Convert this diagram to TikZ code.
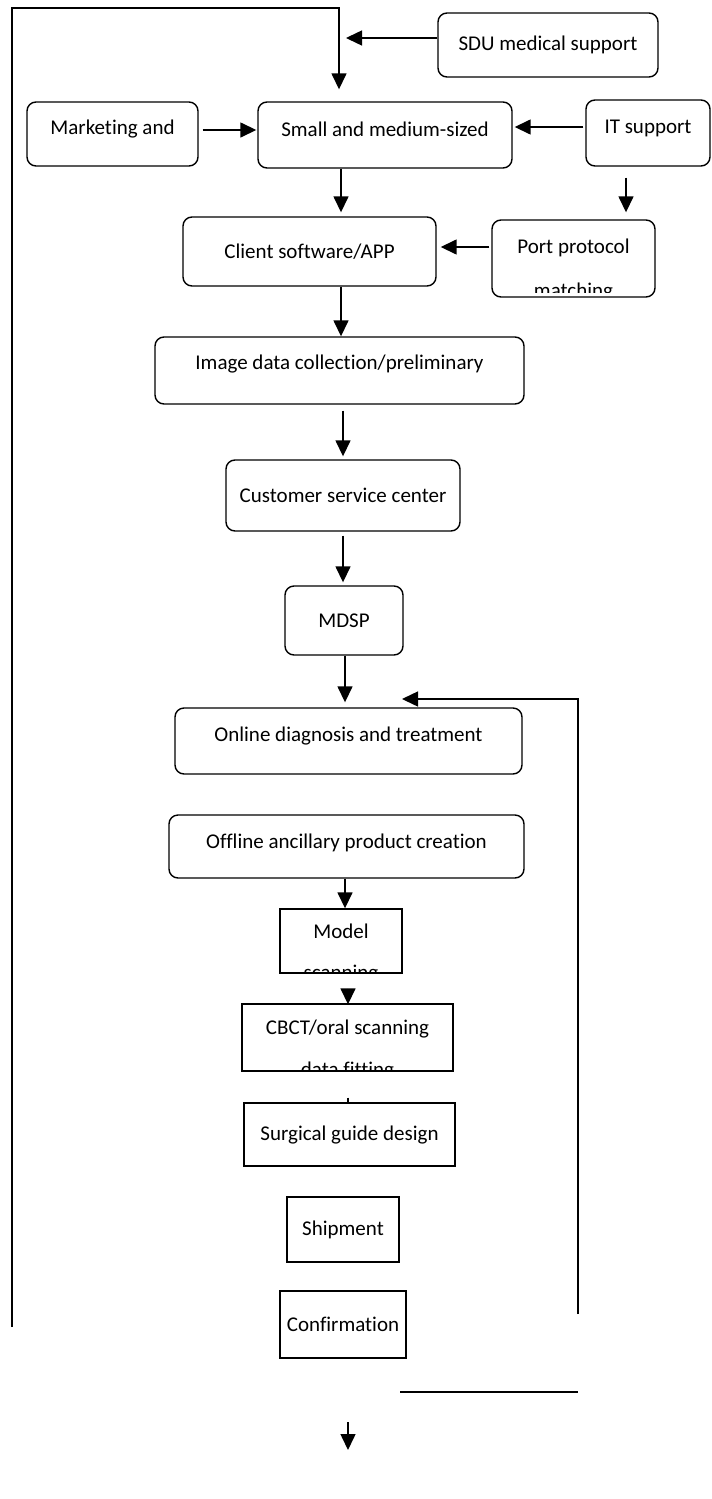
\documentclass[tikz,border=0pt]{standalone}
\usepackage{fontspec}
\setmainfont{Carlito}[Ligatures=NoCommon]
\usetikzlibrary{arrows.meta}
\tikzset{
  rbox/.style={draw, line width=1.4pt, rounded corners=9pt, inner sep=0pt},
  sbox/.style={draw, line width=1.4pt, inner sep=0pt},
  arr/.style={-{Triangle[length=16pt,width=15pt]}, line width=1.5pt},
  ln/.style={line width=1.5pt},
}
\newcommand{\up}[2]{\raisebox{#1}[0pt][0pt]{#2}}

\begin{document}
\begin{tikzpicture}[x=1pt, y=-1pt, font=\fontsize{21}{25}\selectfont]
		\useasboundingbox (0,0) rectangle (712,1499);

		% boxes
		\node[rbox, minimum width=220, minimum height=64] (sdu) at (548,45) {SDU medical support};
		\node[rbox, minimum width=171, minimum height=64] (mkt) at (112.5,134) {\up{-0.7pt}{Marketing and}};
		\node[rbox, minimum width=254, minimum height=66] (smd) at (385,135) {\up{-1.7pt}{Small and medium-sized}};
		\node[rbox, minimum width=124, minimum height=66] (it) at (648,133) {\up{-0.7pt}{IT support}};
		\node[rbox, minimum width=253, minimum height=69] (cli) at (309.5,251.5) {Client software/APP};
		\node[rbox, minimum width=163, minimum height=77] (pp) at (573.5,258.5) {\up{4.8pt}{Port protocol}};
		\node[rbox, minimum width=369, minimum height=67] (img) at (339.5,370.5) {\up{0.8pt}{Image data collection/preliminary}};
		\node[rbox, minimum width=234, minimum height=71] (csc) at (343,495.5) {Customer service center};
		\node[rbox, minimum width=118, minimum height=69] (mdsp) at (344,620.5) {MDSP};
		\node[rbox, minimum width=347, minimum height=66] (onl) at (348.5,741) {\up{-0.7pt}{Online diagnosis and treatment}};
		\node[rbox, minimum width=355, minimum height=63] (off) at (346.5,846.5) {\up{-2.2pt}{Offline ancillary product creation}};
		\node[sbox, minimum width=122, minimum height=64] (mod) at (341,941) {\up{2.3pt}{Model}};
		\node[sbox, minimum width=211, minimum height=67] (cbct) at (347.5,1037.5) {\up{2.8pt}{CBCT/oral scanning}};
		\node[sbox, minimum width=211, minimum height=63] (sgd) at (349.5,1134.5) {Surgical guide design};
		\node[sbox, minimum width=112, minimum height=65] (shp) at (343,1229.5) {Shipment};
		\node[sbox, minimum width=126, minimum height=67] (cnf) at (343,1324.5) {Confirmation};

		% second lines, cut off at the box bottom
		\begin{scope}
			\clip ([yshift=5pt]pp.south west) rectangle (pp.north east);
			\node[anchor=base] (ppb) at (pp.south) {matching};
		\end{scope}
		\begin{scope}
			\clip ([yshift=1pt]mod.south west) rectangle (mod.north east);
			\node[anchor=base] (modb) at ([yshift=-6pt]mod.south) {scanning};
		\end{scope}
		\begin{scope}
			\clip ([yshift=2pt]cbct.south west) rectangle (cbct.north east);
			\node[anchor=base] (cbctb) at ([yshift=-4.5pt]cbct.south) {data fitting};
		\end{scope}

		% columns and free ends
		\coordinate (ca) at (341,0);
		\coordinate (cb) at (343,0);
		\coordinate (cc) at (345,0);
		\coordinate (cd) at (348,0);
		\coordinate (ce) at (626,0);
		\coordinate (lb) at (12,1327);
		\coordinate (lt) at (12,8);
		\coordinate (topx) at (339,8);
		\coordinate (sdutip) at (346,38);
		\coordinate (fb) at (578,1314);
		\coordinate (fbt) at (402,699);
		\coordinate (bl) at (400,1392);
		\coordinate (br) at (578,1392);
		\coordinate (ba) at (348,1422);
		\coordinate (bb) at (348,1450);

		\draw[arr, shorten >=12pt] (lb) -- (lt) -- (topx) -- (topx |- smd.north);
		\draw[arr] (sdu.west |- sdutip) -- (sdutip);
		\draw[arr, shorten <=4pt, shorten >=1pt] ([yshift=4pt]mkt.east) -- ([yshift=4pt]mkt.east -| smd.west);
		\draw[arr, shorten <=2pt, shorten >=2pt] ([yshift=6pt]it.west) -- ([yshift=6pt]it.west -| smd.east);
		\draw[arr, shorten >=4pt] (smd.south -| ca) -- (cli.north -| ca);
		\draw[arr, shorten <=11pt, shorten >=7pt] (it.south -| ce) -- (pp.north -| ce);
		\draw[arr, shorten <=2pt, shorten >=4pt] ([yshift=11.5pt]pp.west) -- ([yshift=11.5pt]pp.west -| cli.east);
		\draw[arr] (cli.south -| ca) -- (img.north -| ca);
		\draw[arr, shorten <=6pt, shorten >=3pt] (img.south -| cb) -- (csc.north -| cb);
		\draw[arr, shorten <=4pt, shorten >=3pt] (csc.south -| cb) -- (mdsp.north -| cb);
		\draw[arr, shorten >=5pt] (mdsp.south -| cc) -- (onl.north -| cc);
		\draw[arr] (fb) -- (fb |- fbt) -- (fbt);
		\draw[arr] (off.south -| cc) -- (mod.north -| cc);
		\draw[arr, shorten <=15pt, shorten >=-1pt] (mod.south -| cd) -- (cbct.north -| cd);
		\draw[ln, shorten <=26pt] (cbct.south -| cd) -- (sgd.north -| cd);
		\draw[ln] (bl) -- (br);
		\draw[arr] (ba) -- (bb);
	\end{tikzpicture}
\end{document}
